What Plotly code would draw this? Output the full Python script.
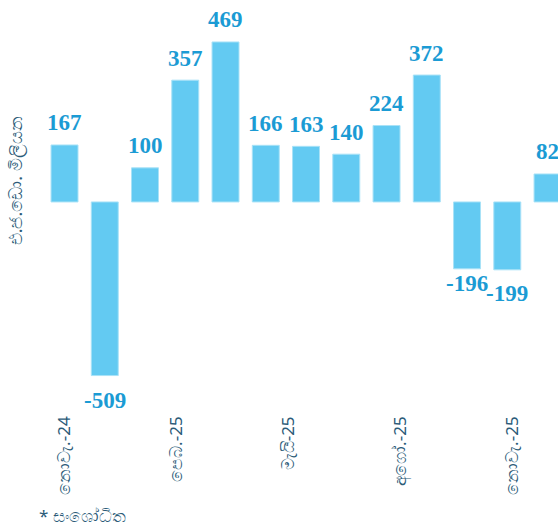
import plotly.graph_objects as go

months = ["2024-11", "2024-12", "2025-01", "2025-02", "2025-03", "2025-04", "2025-05",
          "2025-06", "2025-07", "2025-08", "2025-09", "2025-10", "2025-11"]
values = [167, -509, 100, 357, 469, 166, 163, 140, 224, 372, -196, -199, 82]
tick_labels = ["නොවැ.-24", "පෙබ.-25", "මැයි-25", "අගෝ.-25", "නොවැ.-25"]
y_title = "එ.ජ.ඩො. මිලියන"
footnote = "* සංශෝධිත"

bar_color = "#63caf2"
label_color = "#1b9bd4"
text_color = "#2b5b78"

idx = list(range(len(values)))
fig = go.Figure()
fig.add_trace(go.Bar(
    x=idx, y=values, customdata=months,
    marker=dict(color=bar_color, line=dict(color="#a9e2f7", width=1)),
    width=0.67,
    hovertemplate="%{customdata}: %{y}<extra></extra>",
))

neg_shift = {1: -25, 10: -15, 11: -24}
for i, v in enumerate(values):
    ys = 22 if v >= 0 else neg_shift.get(i, -18)
    fig.add_annotation(x=i, y=v, text=f"<b>{v}</b>", showarrow=False,
                       yanchor="middle", yshift=ys,
                       font=dict(family="Liberation Serif", size=23, color=label_color))

fig.add_annotation(x=0.027, y=0.56, xref="paper", yref="paper", text=y_title,
                   textangle=-90, showarrow=False, xanchor="center", yanchor="middle",
                   font=dict(family="Noto Sans", size=18, color=text_color))
fig.add_annotation(x=0.066, y=-0.283, xref="paper", yref="paper", text=footnote,
                   showarrow=False, xanchor="left", yanchor="bottom",
                   font=dict(family="Noto Sans", size=17, color=text_color))

# label positions along the index scale, as in the source chart
tick_pos = [0, 2.78, 5.56, 8.34, 11.12]

fig.update_layout(
    width=558, height=531,
    margin=dict(l=0, r=0, t=0, b=119),
    paper_bgcolor="white", plot_bgcolor="white",
    showlegend=False,
    xaxis=dict(type="linear", domain=[44.4 / 558, 1], range=[-0.5, 12.26],
               tickvals=tick_pos, ticktext=tick_labels, tickangle=-90,
               showgrid=False, zeroline=False, showline=False, ticks="",
               tickfont=dict(family="Noto Sans", size=17, color=text_color)),
    yaxis=dict(range=[-615.8, 592], showgrid=False, zeroline=False,
               showticklabels=False, showline=False, ticks=""),
)

fig.write_html("out.html", config={"displayModeBar": False},
               post_script="document.body.style.margin='0px';")
